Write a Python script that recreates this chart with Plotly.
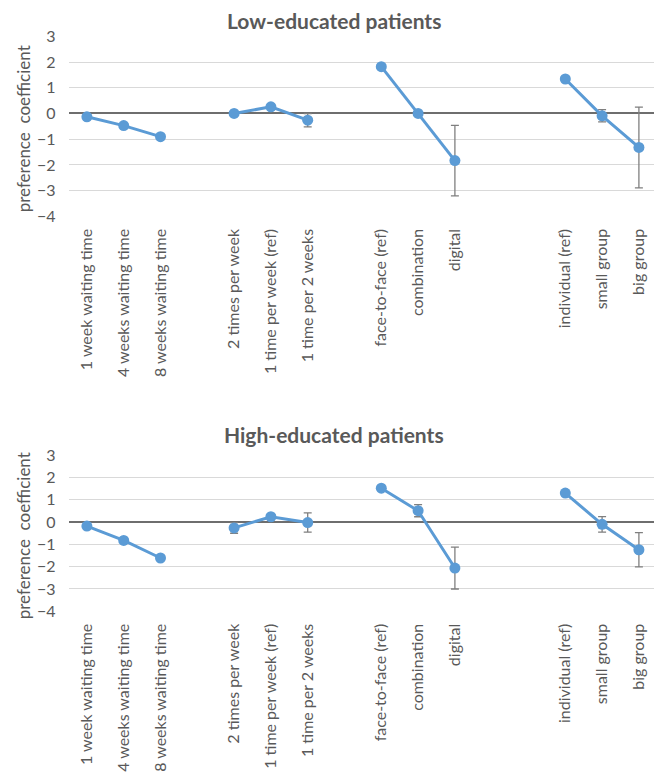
import plotly.graph_objects as go

# Attribute levels, grouped by attribute
waiting_labels = ["1 week waiting time", "4 weeks waiting time", "8 weeks waiting time"]
frequency_labels = ["2 times per week", "1 time per week (ref)", "1 time per 2 weeks"]
mode_labels = ["face-to-face (ref)", "combination", "digital"]
format_labels = ["individual (ref)", "small group", "big group"]

# Low-educated patients: preference coefficients and error half-widths
low_waiting = [-0.13, -0.47, -0.90]
low_frequency = [0.00, 0.26, -0.26]
low_mode = [1.82, 0.00, -1.83]
low_format = [1.34, -0.09, -1.32]
low_waiting_err = [0.05, 0.05, 0.05]
low_frequency_err = [0.05, 0.0, 0.26]
low_mode_err = [0.0, 0.05, 1.37]
low_format_err = [0.0, 0.24, 1.57]

# High-educated patients
high_waiting = [-0.18, -0.82, -1.61]
high_frequency = [-0.26, 0.24, -0.02]
high_mode = [1.52, 0.51, -2.06]
high_format = [1.30, -0.10, -1.24]
high_waiting_err = [0.1, 0.05, 0.05]
high_frequency_err = [0.24, 0.0, 0.43]
high_mode_err = [0.0, 0.27, 0.94]
high_format_err = [0.0, 0.35, 0.77]

y_ticks = [3, 2, 1, 0, -1, -2, -3, -4]

W, H = 654, 776
BLUE = "#5B9BD5"
GREY_TXT = "#595959"
FONT = "Lato"

group_labels = [waiting_labels, frequency_labels, mode_labels, format_labels]
group_gaps = [0, 1, 1, 2]  # empty slots placed before each group

# slot index of every level along the x axis
group_x = []
pos = 0
for labels, gap in zip(group_labels, group_gaps):
    pos += gap
    group_x.append(list(range(pos, pos + len(labels))))
    pos += len(labels)
all_x = [x for xs in group_x for x in xs]
all_labels = [l for ls in group_labels for l in ls]

# pixel geometry of the two panels
plot_left = 68.5
slot_w = 36.8
x_range = [-0.5, -0.5 + (W - plot_left) / slot_w]
panels = [
    dict(title="Low-educated patients", top=36.0, bottom=216.7, title_y=20,
         vals=[low_waiting, low_frequency, low_mode, low_format],
         errs=[low_waiting_err, low_frequency_err, low_mode_err, low_format_err]),
    dict(title="High-educated patients", top=455.0, bottom=611.5, title_y=434,
         vals=[high_waiting, high_frequency, high_mode, high_format],
         errs=[high_waiting_err, high_frequency_err, high_mode_err, high_format_err]),
]

fig = go.Figure()
annotations = []
for i, p in enumerate(panels):
    suffix = "" if i == 0 else str(i + 1)
    for xs, vals, errs in zip(group_x, p["vals"], p["errs"]):
        fig.add_trace(go.Scatter(
            x=xs, y=vals, mode="lines+markers",
            xaxis="x" + suffix, yaxis="y" + suffix,
            line=dict(color=BLUE, width=3),
            marker=dict(color=BLUE, size=11),
            error_y=dict(type="data", array=errs, visible=True,
                         color="#7f7f7f", thickness=1.3, width=4),
            showlegend=False, hoverinfo="y",
        ))
    dom = [1 - p["bottom"] / H, 1 - p["top"] / H]
    fig.layout["xaxis" + suffix] = dict(
        domain=[plot_left / W, 1], range=x_range, anchor="y" + suffix,
        tickmode="array", tickvals=all_x, ticktext=all_labels, tickangle=-90,
        showgrid=False, zeroline=False, showline=False, ticks="",
        ticklabelstandoff=8, automargin=False,
        tickfont=dict(family=FONT, size=16, color=GREY_TXT),
    )
    fig.layout["yaxis" + suffix] = dict(
        domain=dom, range=[-4.01, 3.01], anchor="x" + suffix,
        tickmode="array", tickvals=y_ticks,
        showgrid=True, gridcolor="#d9d9d9", gridwidth=1,
        zeroline=True, zerolinecolor="#6e6e6e", zerolinewidth=1.6,
        showline=False, ticks="", ticklabelstandoff=12, automargin=False,
        tickfont=dict(family=FONT, size=16, color=GREY_TXT),
    )
    annotations.append(dict(
        text="<b>%s</b>" % p["title"], xref="paper", yref="paper",
        x=334 / W, y=1 - p["title_y"] / H, xanchor="center", yanchor="middle",
        showarrow=False, font=dict(family=FONT, size=21, color=GREY_TXT),
    ))
    annotations.append(dict(
        text="preference  coefficient", xref="paper", yref="paper",
        x=23 / W, y=1 - ((p["top"] + p["bottom"]) / 2 + 3) / H,
        xanchor="center", yanchor="middle", textangle=-90,
        showarrow=False, font=dict(family=FONT, size=17, color=GREY_TXT),
    ))

fig.update_layout(
    width=W, height=H, autosize=False,
    margin=dict(l=0, r=0, t=0, b=0),
    paper_bgcolor="white", plot_bgcolor="white",
    annotations=annotations,
)

fig.write_html("out.html")
